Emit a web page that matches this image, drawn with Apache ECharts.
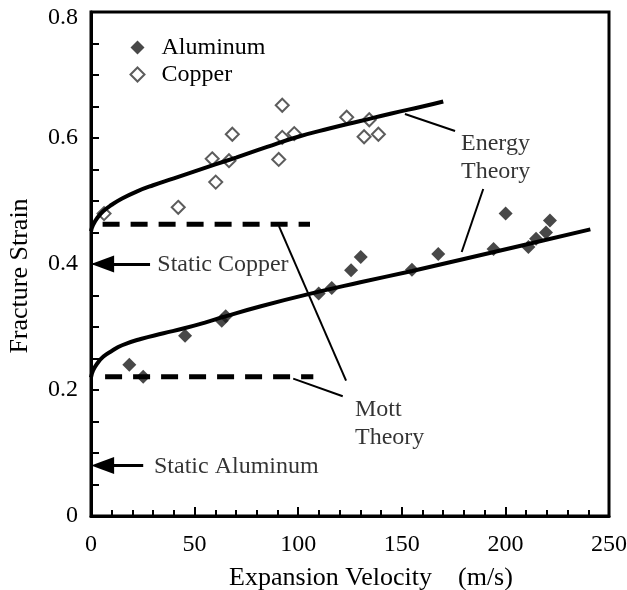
<!DOCTYPE html>
<html>
<head>
<meta charset="utf-8">
<script src="https://cdn.jsdelivr.net/npm/echarts@6/dist/echarts.min.js"></script>
<style>html,body{margin:0;padding:0;background:#fff;}#c{width:627px;height:590px;}</style>
</head>
<body>
<div id="c"></div>
<script>
// ---- data ----
const aluminumX = [18.5, 25.2, 45.4, 63.1, 65.0, 109.9, 116.2, 125.5, 130.2, 154.9, 167.6, 194.3, 200.1, 211.1, 214.8, 219.6, 221.5];
const aluminumY = [0.240, 0.221, 0.286, 0.310, 0.317, 0.353, 0.362, 0.390, 0.411, 0.391, 0.416, 0.424, 0.480, 0.427, 0.440, 0.450, 0.469];
const copperX = [6.3, 42.1, 58.5, 60.2, 66.6, 68.2, 92.3, 90.6, 92.3, 98.1, 123.4, 134.3, 131.8, 138.7];
const copperY = [0.480, 0.490, 0.567, 0.530, 0.564, 0.606, 0.652, 0.566, 0.601, 0.607, 0.633, 0.629, 0.602, 0.606];
const energyCuX = [0, 1, 3, 6, 10, 15, 22, 30, 40, 50, 60, 70, 85, 100, 115, 130, 145, 160, 170];
const energyCuY = [0.452, 0.462, 0.473, 0.484, 0.494, 0.504, 0.515, 0.525, 0.536, 0.547, 0.558, 0.569, 0.586, 0.602, 0.615, 0.627, 0.639, 0.650, 0.658];
const energyAlX = [0, 1, 3, 6, 10, 15, 24, 35, 45, 55, 64, 82, 106, 130, 155, 180, 210, 241];
const energyAlY = [0.220, 0.231, 0.242, 0.253, 0.262, 0.271, 0.281, 0.290, 0.298, 0.307, 0.316, 0.333, 0.353, 0.371, 0.389, 0.408, 0.431, 0.455];
const mottCuX = [5.6, 105.7];
const mottCuY = [0.463, 0.463];
const mottAlX = [6.8, 107.3];
const mottAlY = [0.221, 0.221];
const staticCopper = 0.40;
const staticAluminum = 0.08;
const xTicks = [0, 50, 100, 150, 200, 250];
const yTicks = [0, 0.2, 0.4, 0.6, 0.8];

const zip = (xs, ys) => xs.map((x, i) => [x, ys[i]]);
const FONT = "'Liberation Serif', 'Times New Roman', serif";

const chart = echarts.init(document.getElementById('c'), null, {renderer: 'canvas'});

const seg = (a, b) => [{coord: a}, {coord: b}];

const option = {
  animation: false,
  backgroundColor: '#fff',
  grid: {left: 91, right: 18, top: 12, bottom: 74, containLabel: false, outerBoundsMode: 'none',
         show: true, borderColor: '#000', borderWidth: 3, backgroundColor: 'transparent'},
  legend: {
    orient: 'vertical', left: 124.5, top: 30.5, itemWidth: 14, itemHeight: 14, itemGap: 3,
    selectedMode: false,
    textStyle: {fontFamily: FONT, fontSize: 24, color: '#000', padding: [0, 0, 0, 12]},
    data: [{name: 'Aluminum', icon: 'diamond'}, {name: 'Copper', icon: 'diamond'}]
  },
  xAxis: {
    type: 'value', min: xTicks[0], max: xTicks[xTicks.length - 1], interval: 50,
    name: 'Expansion Velocity    (m/s)', nameLocation: 'middle', nameGap: 49,
    nameTextStyle: {fontFamily: FONT, fontSize: 26, color: '#000', padding: [0, 0, 0, 42]},
    axisLine: {show: true, lineStyle: {color: '#000', width: 3}},
    axisTick: {show: true, inside: true, length: 9, lineStyle: {color: '#000', width: 2}},
    minorTick: {show: true, splitNumber: 5, length: 6, lineStyle: {color: '#000', width: 2}},
    axisLabel: {fontFamily: FONT, fontSize: 24, color: '#000', margin: 17},
    splitLine: {show: false}
  },
  yAxis: {
    type: 'value', min: yTicks[0], max: yTicks[yTicks.length - 1], interval: 0.2,
    name: 'Fracture Strain', nameLocation: 'middle', nameGap: 58, nameRotate: 90,
    nameTextStyle: {fontFamily: FONT, fontSize: 26, color: '#000', padding: [0, 24, 0, 0]},
    axisLine: {show: true, lineStyle: {color: '#000', width: 3}},
    axisTick: {show: true, inside: true, length: 8, lineStyle: {color: '#000', width: 2}},
    minorTick: {show: true, splitNumber: 4, length: 8, lineStyle: {color: '#000', width: 2}},
    axisLabel: {
      fontFamily: FONT, fontSize: 24, color: '#000', margin: 13,
      formatter: v => (Math.abs(v - 0.8) < 1e-9 ? '{top|0.8}' : String(+v.toFixed(1))),
      rich: {top: {fontFamily: FONT, fontSize: 24, color: '#000', padding: [12, 0, 0, 0]}}
    },
    splitLine: {show: false}
  },
  series: [
    {
      name: 'EnergyCu', type: 'line', smooth: true, showSymbol: false, silent: true,
      data: zip(energyCuX, energyCuY), lineStyle: {color: '#000', width: 4}
    },
    {
      name: 'EnergyAl', type: 'line', smooth: true, showSymbol: false, silent: true,
      data: zip(energyAlX, energyAlY), lineStyle: {color: '#000', width: 4}
    },
    {
      name: 'MottCu', type: 'line', showSymbol: false, silent: true,
      data: zip(mottCuX, mottCuY), lineStyle: {color: '#000', width: 5, type: [17, 11]}
    },
    {
      name: 'MottAl', type: 'line', showSymbol: false, silent: true,
      data: zip(mottAlX, mottAlY), lineStyle: {color: '#000', width: 5, type: [17, 11]}
    },
    {
      name: 'Annot', type: 'line', data: [], silent: true,
      markLine: {
        silent: true, symbol: ['none', 'none'], label: {show: false},
        lineStyle: {color: '#000', width: 2, type: 'solid'},
        data: [
          seg([151.5, 0.638], [175.7, 0.611]),
          seg([189.3, 0.519], [178.9, 0.419]),
          seg([90.7, 0.460], [123.1, 0.215]),
          seg([97.6, 0.218], [121.5, 0.190])
        ]
      }
    },
    {
      name: 'Arrows', type: 'line', data: [], silent: true,
      markLine: {
        silent: true, symbol: ['triangle', 'none'], symbolSize: [17, 23], label: {show: false},
        lineStyle: {color: '#000', width: 3, type: 'solid'},
        data: [
          seg([5.6, staticCopper], [28.5, staticCopper]),
          seg([5.6, staticAluminum], [25.2, staticAluminum])
        ]
      }
    },
    {
      name: 'Aluminum', type: 'scatter', symbol: 'diamond', symbolSize: 14,
      data: zip(aluminumX, aluminumY), itemStyle: {color: '#1a1a1a'}
    },
    {
      name: 'Copper', type: 'scatter', symbol: 'diamond', symbolSize: 13,
      data: zip(copperX, copperY), itemStyle: {color: '#fff', borderColor: '#333', borderWidth: 2}
    },
    {
      name: 'Texts', type: 'scatter', symbolSize: 0, silent: true,
      data: [
        {value: [32.0, staticCopper], name: 'Static Copper'},
        {value: [30.4, staticAluminum], name: 'Static Aluminum'},
        {value: [178.6, 0.570], name: 'Energy\nTheory'},
        {value: [127.4, 0.148], name: 'Mott\nTheory'}
      ],
      label: {
        show: true, position: 'right', distance: 0, offset: [0, 1], formatter: p => p.name,
        fontFamily: FONT, fontSize: 24, color: '#000', lineHeight: 28, align: 'left'
      }
    }
  ]
};
chart.setOption(option);
</script>
</body>
</html>
